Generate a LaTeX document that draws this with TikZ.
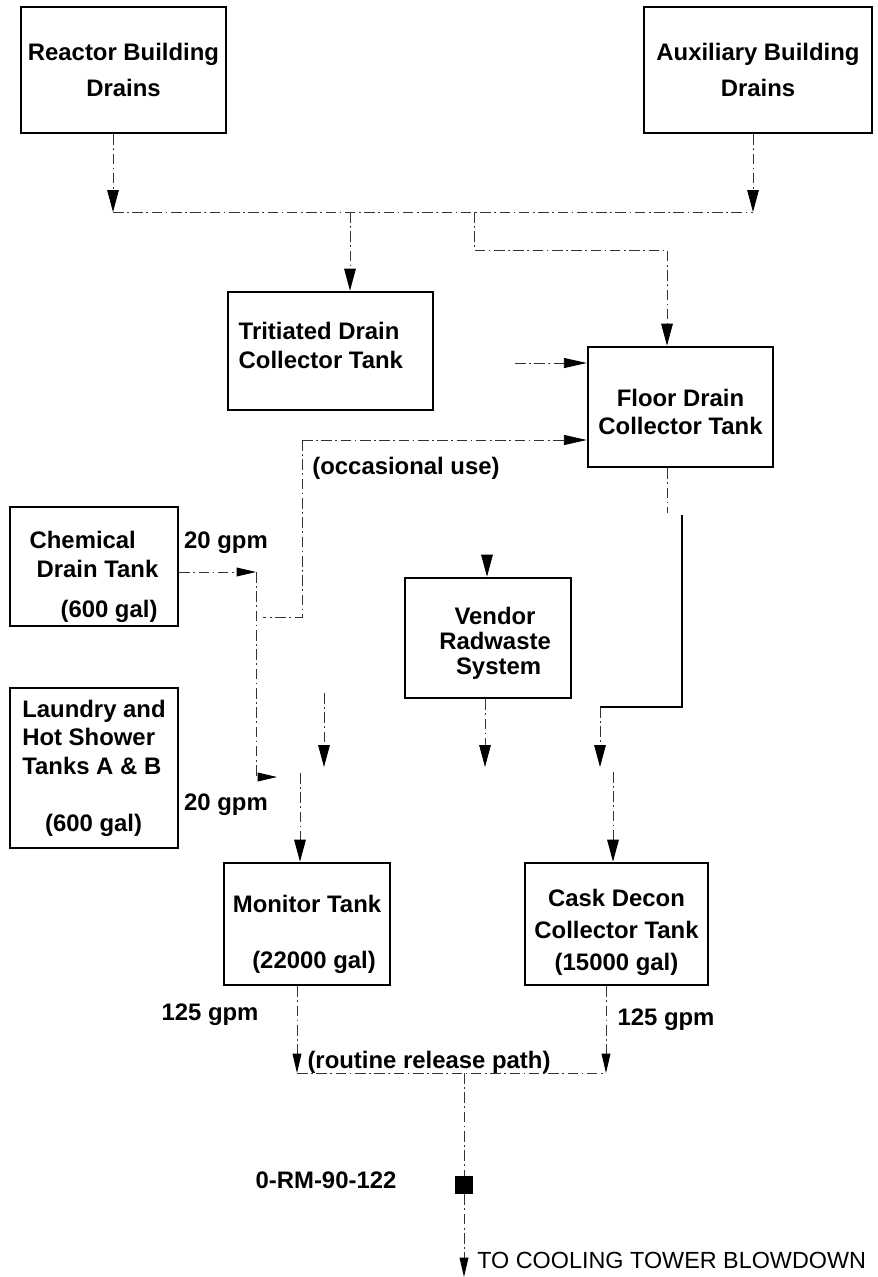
\documentclass[tikz,border=0pt]{standalone}
\usepackage{fontspec}
\setmainfont{Liberation Sans}
\usetikzlibrary{arrows.meta,positioning}

\begin{document}
\begin{tikzpicture}[
    x=0.02cm, y=-0.02cm,
    tank/.style={rectangle, draw, line width=1.5pt, inner sep=0pt,
        font=\fontsize{13.6}{16.3}\selectfont\bfseries},
    lbl/.style={font=\fontsize{13.6}{16.3}\selectfont\bfseries, inner sep=0pt},
    pipe/.style={line width=0.5pt, color=black!80, dash pattern=on 6pt off 2pt on 1pt off 2pt},
    main/.style={line width=1.3pt},
    downtip/.style={-{Triangle[length=12.5pt,width=6.6pt,color=black]}},
    intip/.style={-{Triangle[length=13pt,width=5.7pt,color=black]}},
    smalltip/.style={-{Triangle[length=11pt,width=5pt,color=black]}}
]
    \useasboundingbox (0,0) rectangle (877,1277);

    % --- Drain sources ---
    \node[tank, minimum width=4.10cm, minimum height=2.52cm, align=center] (reactor) at (123.5,70) {Reactor Building\\[4.7pt]Drains};
    \node[tank, minimum width=4.56cm, minimum height=2.52cm, align=center] (aux) at (758,70) {Auxiliary Building\\[4.7pt]Drains};

    % --- Collector tanks ---
    \node[tank, minimum width=4.10cm, minimum height=2.36cm, align=left] (trit) at (330.5,351) {Tritiated Drain\\Collector Tank\hspace*{11pt}\rule[-6.8pt]{0pt}{6.8pt}};
    \node[tank, minimum width=3.70cm, minimum height=2.40cm, align=center] (floor) at (680.5,407) {\rule{0pt}{15.5pt}Floor Drain\\Collector Tank};
    \node[tank, minimum width=3.36cm, minimum height=2.38cm, align=left] (chem) at (94,566.5) {\rule{0pt}{22pt}Chemical\\\hspace*{4pt}Drain Tank\\[6.5pt]\hspace*{17.6pt}(600 gal)};
    \node[tank, minimum width=3.36cm, minimum height=3.20cm, align=left] (laundry) at (94,768) {Laundry and\\Hot Shower\\Tanks A \& B\\[16pt]\hspace*{13pt}(600 gal)};
    \node[tank, minimum width=3.32cm, minimum height=2.40cm, align=center] (vendor) at (488,638) {\rule{0pt}{15.5pt}\hspace*{8pt}Vendor\\[-2pt]\hspace*{8pt}Radwaste\\[-2pt]\hspace*{12pt}System};
    \node[tank, minimum width=3.32cm, minimum height=2.44cm, align=center] (monitor) at (307,924) {\rule{0pt}{22pt}Monitor Tank\\[15.6pt]\hspace*{8pt}(22000 gal)};
    \node[tank, minimum width=3.66cm, minimum height=2.44cm, align=center] (cask) at (616.5,924) {\rule{0pt}{19pt}Cask Decon\\[2pt]Collector Tank\\[2pt](15000 gal)};

    % Radiation monitor
    \node[rectangle, fill=black, minimum width=0.36cm, minimum height=0.36cm, inner sep=0pt] (rm) at (464,1185) {};

    % Labels
    \node[lbl] (rmlbl) at (326,1180) {0-RM-90-122};
    \node[lbl] (gpmchem) at (226,543) {20 gpm};
    \node[lbl] (gpmlaun) at (226,805) {20 gpm};
    \node[lbl] (gpmmon) at (210,1015) {125 gpm};
    \node[lbl] (gpmcask) at (666,1020) {125 gpm};
    \node[lbl] (occlbl) at (406,468) {(occasional use)};
    \node[lbl] (routine) at (429,1062) {(routine release path)};
    \node[font=\fontsize{13.3}{16}\selectfont, anchor=west, inner sep=0pt] (blowdown) at (477,1260) {TO COOLING TOWER BLOWDOWN};

    % --- Drain header ---
    \coordinate (hdrL) at (113,212);
    \coordinate (hdrR) at (753,212);
    \coordinate (tritIn) at (350,212);
    \coordinate (floorTap) at (474,212);
    \coordinate (floorBend) at (474,250);
    \coordinate (floorBend2) at (667,250);

    \draw[pipe, downtip] (reactor.south -| hdrL) -- (hdrL);
    \draw[pipe, downtip] (aux.south -| hdrR) -- (hdrR);
    \draw[pipe] (hdrL) -- (hdrR);
    \draw[pipe, downtip] (tritIn) -- (trit.north -| tritIn);
    \draw[pipe, downtip] (floorTap) -- (floorBend) -- (floorBend2) -- (floor.north -| floorBend2);

    % --- Tritiated tank paths ---
    \coordinate (tritOut) at (515,363);
    \coordinate (occTop) at (302,440);
    \coordinate (occLow) at (302,617);
    \coordinate (occEnd) at (263,617);
    \coordinate (occTop2) at (324,693);
    \coordinate (occArr) at (324,767);

    \draw[pipe, intip] (tritOut) -- (floor.west |- tritOut);
    \draw[pipe, intip] (occTop) -- (floor.west |- occTop);
    \draw[pipe] (occTop) -- (occLow) -- (occEnd);
    \draw[pipe, downtip] (occTop2) -- (occArr);

    % --- Chemical / laundry to monitor tank ---
    \coordinate (chemArr) at (256,572);
    \coordinate (launArr) at (277,777);
    \coordinate (monFeed) at (300,773);

    \draw[pipe, smalltip] (chem.east |- chemArr) -- (chemArr);
    \draw[pipe, smalltip] (chemArr) |- (launArr);
    \draw[pipe, downtip] (monFeed) -- (monitor.north -| monFeed);

    % --- Floor drain outlet ---
    \coordinate (floorOut) at (667,513);
    \coordinate (bypassTop) at (682,515);
    \coordinate (bypassBot) at (682,707);
    \coordinate (bypassEnd) at (600,707);
    \coordinate (caskArr) at (600,767);
    \coordinate (caskFeed) at (613,772);

    \draw[pipe] (floor.south -| floorOut) -- (floorOut);
    \draw[main] (bypassTop) -- (bypassBot) -- (bypassEnd);
    \draw[pipe, downtip] (bypassEnd) -- (caskArr);
    \draw[pipe, downtip] (caskFeed) -- (cask.north -| caskFeed);

    % --- Vendor system ---
    \coordinate (vendIn) at (487,555);
    \coordinate (vendArr) at (485,767);
    \draw[pipe, downtip] (vendIn) -- (vendor.north -| vendIn);
    \draw[pipe, downtip] (vendor.south -| vendArr) -- (vendArr);

    % --- Release path ---
    \coordinate (monRel) at (297,1073);
    \coordinate (caskRel) at (606,1073);
    \coordinate (relJoin) at (464,1073);
    \coordinate (outfall) at (464,1277);

    \draw[pipe, smalltip] (monitor.south -| monRel) -- (monRel);
    \draw[pipe, smalltip] (cask.south -| caskRel) -- (caskRel);
    \draw[pipe] (monRel) -- (caskRel);
    \draw[pipe] (relJoin) -- (rm.north);
    \draw[pipe, smalltip] (rm.south) -- (outfall);
\end{tikzpicture}
\end{document}
